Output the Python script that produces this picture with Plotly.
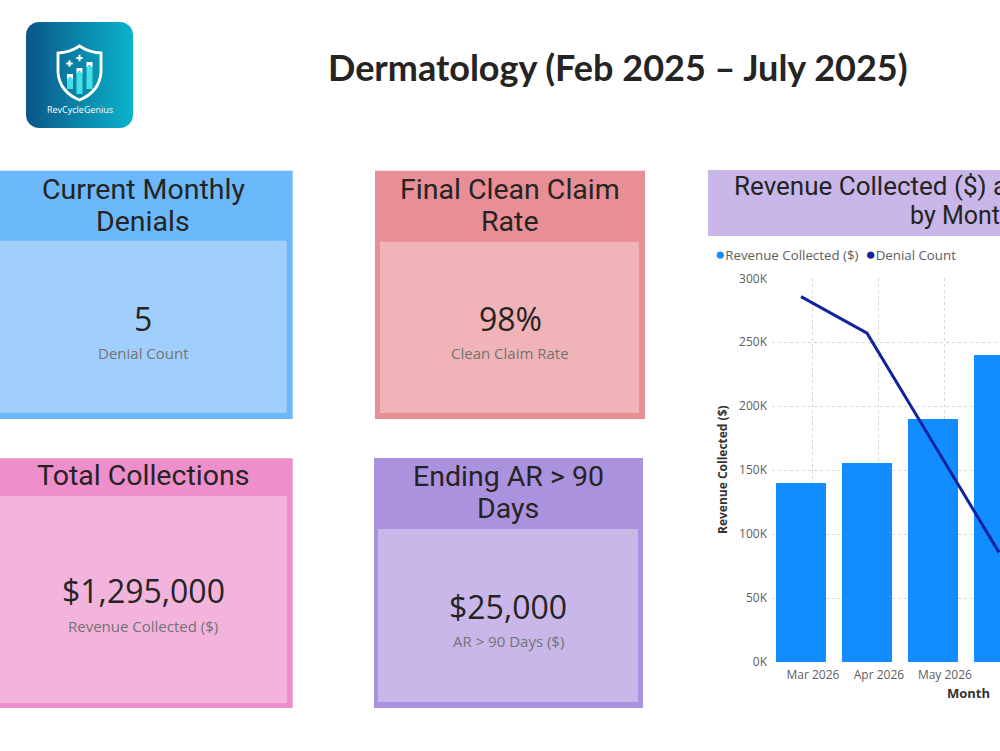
import numpy as np
import plotly.graph_objects as go

# ---------------- data ----------------
months = ["Mar 2026", "Apr 2026", "May 2026", "Jun 2026"]
revenue = [140000, 155000, 190000, 240000]
denials = [20, 18, 12, 6]

y_ticks = [0, 50000, 100000, 150000, 200000, 250000, 300000]
y_tick_labels = ["0K", "50K", "100K", "150K", "200K", "250K", "300K"]

card_titles = [["Current Monthly", "Denials"], ["Final Clean Claim", "Rate"],
               ["Total Collections"], ["Ending AR > 90", "Days"]]
card_values = ["5", "98%", "$1,295,000", "$25,000"]
card_labels = ["Denial Count", "Clean Claim Rate", "Revenue Collected ($)", "AR > 90 Days ($)"]

page_title = "Dermatology (Feb 2025 \u2013 July 2025)"
chart_title = ["Revenue Collected ($) and Denial Count", "by Month"]
legend_names = ["Revenue Collected ($)", "Denial Count"]
legend_colors = ["#118DFF", "#12239E"]

W, H = 1000, 751
TXT = "#252423"

fig = go.Figure()

# ---------------- bar/line chart ----------------
pos = list(range(len(months)))
fig.add_trace(go.Bar(x=pos, y=revenue, width=0.76, marker_color=legend_colors[0],
                     name=legend_names[0], showlegend=False, xaxis="x", yaxis="y"))
fig.add_trace(go.Scatter(x=pos, y=denials, mode="lines", line=dict(color=legend_colors[1], width=3),
                         name=legend_names[1], showlegend=False, xaxis="x", yaxis="y2"))

# ---------------- decoration helpers (page pixel axes x3/y3) ----------------
shapes = []
annotations = []

def rect(x0, y0, x1, y1, color):
    shapes.append(dict(type="rect", xref="x3", yref="y3", x0=x0, y0=y0, x1=x1, y1=y1,
                       fillcolor=color, line=dict(width=0), layer="below"))

def text(x, y, s, size, color=TXT, family="Roboto", bold=False, **kw):
    if bold:
        s = "<b>" + s + "</b>"
    annotations.append(dict(xref="x3", yref="y3", x=x, y=y, text=s, showarrow=False,
                            font=dict(size=size, color=color, family=family), **kw))

# logo background (rounded rectangle with horizontal gradient)
lx0, ly0, lx1, ly1, r = 26, 22, 133, 128, 13
pts = []
for cx, cy, a0 in [(lx1 - r, ly0 + r, -90), (lx1 - r, ly1 - r, 0), (lx0 + r, ly1 - r, 90), (lx0 + r, ly0 + r, 180)]:
    for a in np.linspace(a0, a0 + 90, 12):
        pts.append((cx + r * np.cos(np.radians(a)), cy + r * np.sin(np.radians(a))))
px_, py_ = zip(*pts)
fig.add_trace(go.Scatter(x=list(px_) + [px_[0]], y=list(py_) + [py_[0]], mode="lines",
                         line=dict(width=0), fill="toself",
                         fillgradient=dict(type="horizontal",
                                           colorscale=[[0, "#0A5689"], [1, "#0AB4CB"]]),
                         hoverinfo="skip", showlegend=False, xaxis="x3", yaxis="y3"))

# shield
shapes.append(dict(type="path", xref="x3", yref="y3",
                   path="M 79.5 46 Q 70 52.5 58 53 L 58 73 Q 60 92 79.5 100 Q 99 92 101 73 L 101 53 Q 89 52.5 79.5 46 Z",
                   line=dict(color="white", width=2.8), fillcolor="rgba(0,0,0,0)", layer="above"))
for bx0, bx1, btop, bbot in [(67, 73, 74, 89), (76.5, 82.5, 68, 94), (86.5, 92.5, 62, 89)]:
    shapes.append(dict(type="rect", xref="x3", yref="y3", x0=bx0, x1=bx1, y0=btop + 4, y1=bbot,
                       fillcolor="#45E0E6", line=dict(width=0), layer="above"))
    shapes.append(dict(type="path", xref="x3", yref="y3",
                       path=f"M {bx0} {btop} L {bx1} {btop} L {bx1} {btop+5} L {(bx0+bx1)/2} {btop+3} L {bx0} {btop+5} Z",
                       fillcolor="white", line=dict(width=0), layer="above"))
for cx, cy in [(69.5, 63.5), (79.5, 58)]:
    shapes.append(dict(type="line", xref="x3", yref="y3", x0=cx - 3.2, x1=cx + 3.2, y0=cy, y1=cy,
                       line=dict(color="white", width=2), layer="above"))
    shapes.append(dict(type="line", xref="x3", yref="y3", x0=cx, x1=cx, y0=cy - 3.2, y1=cy + 3.2,
                       line=dict(color="white", width=2), layer="above"))
text(79.5, 109, "RevCycleGenius", 9, color="white", family="Open Sans")

# page title
text(618, 67, page_title, 36, family="Lato", bold=True)

# KPI cards
cards = [
    dict(o=(-10, 170.7, 292.7, 419), i=(-10, 240.7, 286.7, 413), hc="#6BB8FB", ic="#A1CFFC",
         tx=143, ty=(189, 221.7), vy=318, ly=353),
    dict(o=(375, 170.7, 645, 419), i=(380, 241.7, 639, 413), hc="#E78E97", ic="#F0B3B8",
         tx=510, ty=(189, 221.7), vy=318, ly=353),
    dict(o=(-10, 458.3, 292.7, 708), i=(-10, 496, 287, 703), hc="#EE8FCC", ic="#F2B4DC",
         tx=143, ty=(475.5,), vy=590, ly=626),
    dict(o=(374, 458, 643, 708), i=(378, 529, 638, 702), hc="#AB92DE", ic="#C8B7E8",
         tx=508, ty=(476.5, 508.5), vy=606, ly=641),
]
for k, c in enumerate(cards):
    ox0, oy0, ox1, oy1 = c["o"]
    ix0, iy0, ix1, iy1 = c["i"]
    rect(ox0, oy0, ox1, oy1, c["hc"])
    rect(ix0, iy0, ix1, iy1, c["ic"])
    for line_txt, yy in zip(card_titles[k], c["ty"]):
        text(c["tx"], yy, line_txt, 28.5, family="Roboto")
    text(c["tx"], c["vy"], card_values[k], 32, family="Open Sans")
    text(c["tx"], c["ly"], card_labels[k], 15, color="#737373", family="Open Sans")

# chart header
rect(708, 170, 1215, 236, "#C8B7E8")
text(961.5, 186, chart_title[0], 26, family="Roboto")
text(961.5, 215, chart_title[1], 25, family="Roboto")

# legend
text(713, 253,
     f'<span style="color:{legend_colors[0]};font-size:17px">\u25CF</span>{legend_names[0]}  '
     f'<span style="color:{legend_colors[1]};font-size:17px">\u25CF</span>{legend_names[1]}',
     13.3, color="#605E5C", family="Open Sans", xanchor="left")

# axis titles
text(722, 470, "<b>Revenue Collected ($)</b>", 12, color="#333333", family="Open Sans", textangle=-90)
text(968, 693, "<b>Month</b>", 13, color="#333333", family="Open Sans")

# ---------------- layout ----------------
y_bot = 1 - 662 / H
y_top = 1 - 278.3 / H
fig.update_layout(
    template="none",
    width=W, height=H, margin=dict(l=0, r=0, t=0, b=0, pad=0, autoexpand=False),
    paper_bgcolor="white", plot_bgcolor="rgba(0,0,0,0)",
    bargap=0,
    shapes=shapes, annotations=annotations, showlegend=False,
    xaxis=dict(domain=[0.772, 1.0], range=[-0.44, 3.015],
               tickvals=[p + 0.18 for p in pos], ticktext=months,
               showgrid=True, griddash="dot", gridcolor="#D6D6D6", gridwidth=1,
               zeroline=False, showline=False, ticks="", automargin=False, ticklabelstandoff=4,
               tickfont=dict(size=12, color="#605E5C", family="Open Sans"), fixedrange=True),
    yaxis=dict(domain=[y_bot, y_top], range=[0, 300000], tickvals=y_ticks, ticktext=y_tick_labels,
               showgrid=True, griddash="dot", gridcolor="#D6D6D6", gridwidth=1,
               zeroline=False, showline=False, ticks="", ticklabelstandoff=4, automargin=False,
               tickfont=dict(size=12, color="#605E5C", family="Open Sans"), fixedrange=True),
    yaxis2=dict(overlaying="y", side="right", range=[0, 21], showgrid=False, automargin=False,
                showticklabels=False, zeroline=False, fixedrange=True),
    xaxis3=dict(domain=[0, 1], range=[0, W], visible=False, fixedrange=True, automargin=False),
    yaxis3=dict(domain=[0, 1], range=[H, 0], visible=False, fixedrange=True, automargin=False),
)

fig.write_html("out.html", config={"displayModeBar": False})
